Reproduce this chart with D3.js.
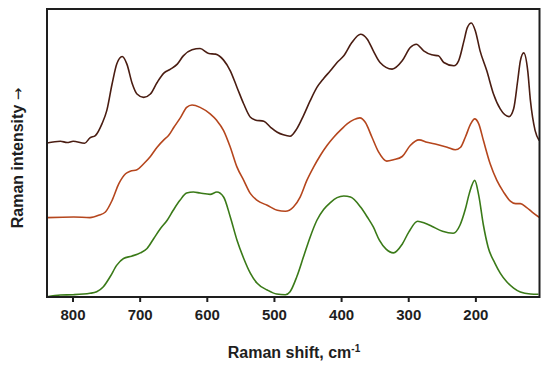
<!DOCTYPE html>
<html>
<head>
<meta charset="utf-8">
<script src="https://cdn.jsdelivr.net/npm/d3@7"></script>
<style>
  html, body { margin: 0; padding: 0; background: #fff; }
  svg { display: block; font-family: "Liberation Sans", Arial, sans-serif; }
</style>
</head>
<body>
<svg id="chart" width="550" height="368"></svg>
<script>
// ---- Data (Raman shift in cm-1, intensity in arbitrary units) ----
const xTicks = [800, 700, 600, 500, 400, 300, 200];

const topShift = [838, 818, 808, 799, 782, 774, 766, 756, 749, 741, 734, 726, 719, 711, 704, 694, 684, 674, 664, 654, 644, 635, 622, 610, 597, 587, 575, 565, 555, 545, 535, 528, 515, 505, 495, 486, 476, 466, 456, 446, 436, 426, 416, 406, 396, 384, 371, 361, 352, 342, 324, 309, 297, 288, 277, 265, 255, 247, 232, 225, 217, 212, 206, 200, 193, 183, 173, 163, 150, 143, 137, 133, 128, 122, 118, 111, 105];
const topIntensity = [154.5, 156.3, 155, 156.3, 154.3, 159.7, 162, 174, 187, 214, 234, 241.3, 233.7, 214, 203.7, 200.3, 203.7, 215.3, 224.7, 228.7, 233.7, 242, 248, 249.3, 244.3, 243.7, 237.7, 227, 210.3, 193.7, 180.3, 177.7, 176.3, 170.3, 165.3, 162.7, 161.3, 168.7, 182, 197, 210.3, 219.3, 227, 235.3, 242, 255.3, 263.7, 258.7, 247, 235.3, 228.7, 237, 250.3, 253.7, 247, 243, 242, 235.3, 232, 237, 257, 270.3, 275, 267, 247, 227, 203.7, 188.7, 181, 189, 217, 237, 245, 227, 197, 167, 157];

const midShift = [838, 798, 774, 761, 751, 741, 731, 721, 714, 704, 694, 684, 674, 664, 657, 649, 639, 630, 622, 610, 595, 585, 575, 565, 555, 545, 535, 525, 510, 495, 483, 471, 461, 451, 441, 431, 421, 411, 399, 391, 381, 372, 364, 354, 344, 332, 322, 309, 297, 284, 272, 257, 242, 230, 222, 215, 207, 201, 195, 188, 178, 168, 158, 148, 140, 133, 124, 115, 105];
const midIntensity = [79.7, 80.3, 79.7, 82, 85.3, 97, 113.7, 123.7, 126.3, 127.7, 133.7, 141, 150.3, 157.7, 162, 170.3, 180.3, 190.3, 192.7, 190.3, 183.7, 177, 167, 150.3, 130.3, 117, 103.7, 97, 92, 87, 86, 90.3, 100.3, 117, 130.3, 142, 152, 160.3, 168.7, 173.7, 178, 179.7, 175.3, 160.3, 145.3, 136.3, 137.7, 141, 152, 157.7, 155.3, 153, 150.3, 147.7, 150.3, 160.3, 173.7, 178.7, 173.7, 157, 133.7, 117, 105.3, 96.3, 93.7, 93.7, 90, 85, 80];

const greenShift = [838, 818, 799, 774, 764, 754, 744, 734, 724, 712, 699, 689, 679, 669, 659, 650, 640, 630, 620, 610, 595, 585, 575, 565, 555, 545, 535, 525, 510, 496, 483, 476, 466, 456, 446, 436, 426, 416, 406, 396, 386, 371, 361, 352, 343, 333, 322, 309, 299, 286, 275, 265, 249, 233, 223, 215, 209, 201, 195, 188, 181, 171, 163, 153, 143, 133, 118, 106];
const greenIntensity = [0.3, 2, 2.3, 3.7, 5.3, 10.3, 20.3, 32, 38.7, 41, 44.3, 48.7, 58.7, 68.7, 77, 87, 97, 104.3, 105.3, 104.3, 103, 105.3, 100.3, 80.3, 57, 38.7, 23.7, 13.7, 7, 3, 2.3, 5.3, 20.3, 40.3, 60.3, 77, 87.7, 94.7, 99.7, 101.3, 100.3, 90.3, 80.3, 70.3, 57, 48, 44.3, 53, 65.4, 76, 74, 71, 66, 64, 72, 88, 104, 117, 102, 72, 50, 34, 24, 15, 9, 5, 3, 2.7];

const seriesNames = ["top", "middle", "bottom"];
const seriesColors = ["#4a1d12", "#b5461d", "#3a7a18"];

// ---- Layout ----
const svg = d3.select("#chart");
const margin = { left: 47, right: 10.5, top: 9, bottom: 71 };
const W = 550, H = 368;
const x = d3.scaleLinear().domain([838, 104.5]).range([margin.left, W - margin.right]);
const y = d3.scaleLinear().domain([0, 289]).range([H - margin.bottom, margin.top]);

const series = [
  { name: seriesNames[0], color: seriesColors[0], xs: topShift, ys: topIntensity },
  { name: seriesNames[1], color: seriesColors[1], xs: midShift, ys: midIntensity },
  { name: seriesNames[2], color: seriesColors[2], xs: greenShift, ys: greenIntensity }
];

const line = d3.line()
  .x(d => x(d[0]))
  .y(d => y(d[1]))
  .curve(d3.curveMonotoneX);

svg.append("defs").append("clipPath").attr("id", "clip")
  .append("rect")
  .attr("x", margin.left).attr("y", margin.top)
  .attr("width", W - margin.left - margin.right)
  .attr("height", H - margin.top - margin.bottom);

const g = svg.append("g").attr("clip-path", "url(#clip)");
series.forEach(s => {
  g.append("path")
    .datum(s.xs.map((v, i) => [v, s.ys[i]]))
    .attr("fill", "none")
    .attr("stroke", s.color)
    .attr("stroke-width", 1.6)
    .attr("stroke-linejoin", "round")
    .attr("d", line);
});

// Frame
svg.append("rect")
  .attr("x", margin.left).attr("y", margin.top)
  .attr("width", W - margin.left - margin.right)
  .attr("height", H - margin.top - margin.bottom)
  .attr("fill", "none")
  .attr("stroke", "#1e1e1e")
  .attr("stroke-width", 2);

// Bottom axis
const xAxis = d3.axisBottom(x).tickValues(xTicks).tickSize(5).tickSizeOuter(0).tickPadding(7);
const ax = svg.append("g")
  .attr("transform", `translate(0,${H - margin.bottom})`)
  .call(xAxis);
ax.select(".domain").remove();
ax.selectAll(".tick line").attr("stroke", "#1e1e1e").attr("stroke-width", 2);
ax.selectAll(".tick text")
  .attr("fill", "#1e1e1e")
  .style("font-family", "'Liberation Sans', Arial, sans-serif")
  .style("font-size", "15px")
  .style("font-weight", "bold");

// X title
const xt = svg.append("text")
  .attr("x", 294).attr("y", 358)
  .attr("text-anchor", "middle")
  .attr("fill", "#1e1e1e")
  .style("font-size", "16px")
  .style("font-weight", "bold");
xt.append("tspan").text("Raman shift, cm");
xt.append("tspan").attr("dy", -6).style("font-size", "10px").text("-1");

// Y title
const yt = svg.append("text")
  .attr("transform", "translate(23,158) rotate(-90)")
  .attr("text-anchor", "middle")
  .attr("fill", "#1e1e1e")
  .style("font-size", "16px")
  .style("font-weight", "bold");
yt.append("tspan").text("Raman intensity ");
yt.append("tspan")
  .style("font-family", "'DejaVu Sans', sans-serif")
  .style("font-weight", "normal")
  .style("font-size", "15px")
  .text("\u2192");
</script>
</body>
</html>
